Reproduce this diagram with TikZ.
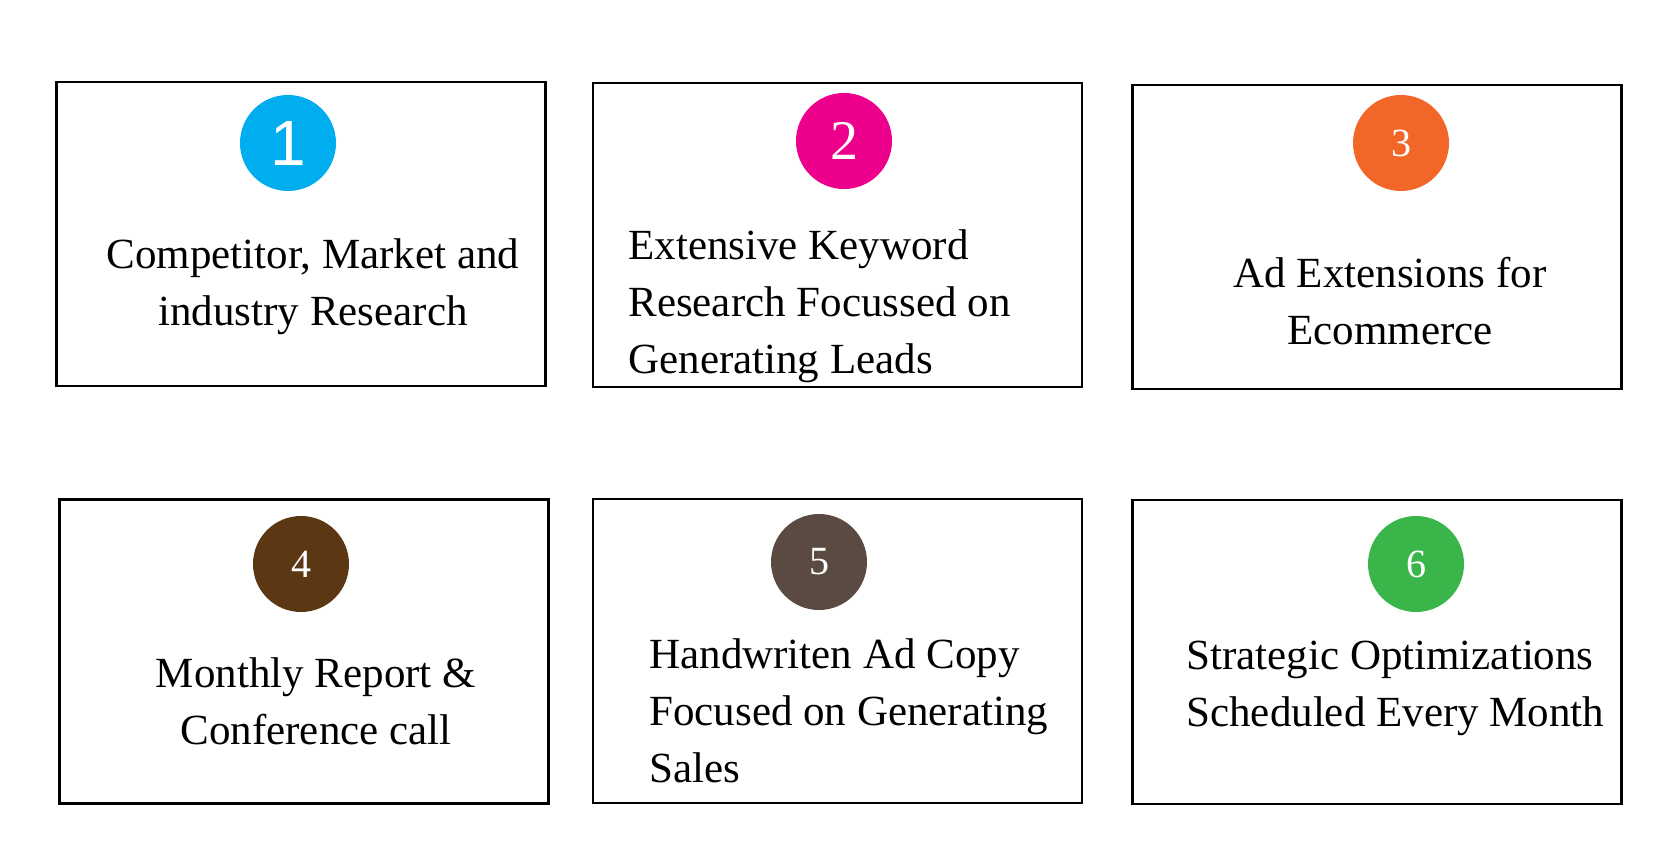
\documentclass[tikz,border=0pt]{standalone}
\usepackage{fontspec}
\setmainfont{Liberation Serif}
\newfontfamily\numsans{Liberation Sans}
\usepackage{tikz}
\usetikzlibrary{positioning}
\definecolor{cblue}{HTML}{00ADEF}
\definecolor{cpink}{HTML}{EC008C}
\definecolor{corange}{HTML}{F26727}
\definecolor{cbrown}{HTML}{5C3714}
\definecolor{cgrey}{HTML}{5B4A42}
\definecolor{cgreen}{HTML}{39B54A}

\begin{document}
\begin{tikzpicture}[
    x=0.5pt, y=-0.5pt,
    card/.style={
        draw,
        line width=1.4pt,
        minimum width=244.5pt,
        minimum height=152pt,
        inner sep=0pt
    },
    badge/.style={
        circle,
        minimum size=48pt,
        inner sep=0pt,
        text=white,
        font=\fontsize{20}{20}\selectfont
    },
    label/.style={
        inner sep=0pt,
        font=\fontsize{21.5}{28.5}\selectfont
    }
]

\useasboundingbox (0,0) rectangle (1666,850);

% Top row
\node[card] (box1) at (301,234) {};
\node[card] (box2) at (837.5,235) {};
\node[card] (box3) at (1377,237) {};

\node[badge, fill=cblue, font=\numsans\fontsize{32}{32}\selectfont] (num1) at (288,143) {1};
\node[badge, fill=cpink, font=\fontsize{28}{28}\selectfont] (num2) at (844,141) {2};
\node[badge, fill=corange] (num3) at (1401,143) {3};

\node[label, align=center] (txt1) at (313,287) {Competitor, Market and\\industry Research};
\node[label, align=left, anchor=west] (txt2) at (628,306) {Extensive Keyword\\Research Focussed on\\Generating Leads};
\node[label, align=center] (txt3) at (1390,301) {Ad Extensions for\\Ecommerce};

% Bottom row
\node[card] (box4) at (304,651.5) {};
\node[card] (box5) at (837.5,651) {};
\node[card] (box6) at (1377,652) {};

\node[badge, fill=cbrown] (num4) at (301,564) {4};
\node[badge, fill=cgrey] (num5) at (819,562) {5};
\node[badge, fill=cgreen] (num6) at (1416,564) {6};

\node[label, align=center] (txt4) at (316,701) {Monthly Report \&\\Conference call};
\node[label, align=left, anchor=west] (txt5) at (649,711) {Handwriten Ad Copy\\Focused on Generating\\Sales};
\node[label, align=left, anchor=west] (txt6) at (1186,688) {Strategic Optimizations\\Scheduled Every Month};

\end{tikzpicture}
\end{document}
